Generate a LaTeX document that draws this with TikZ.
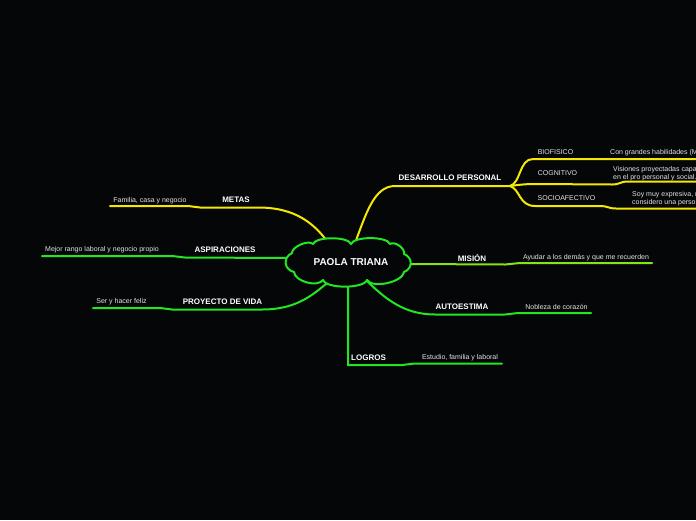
\documentclass[tikz,border=0pt]{standalone}
\usepackage{fontspec}
\setmainfont{Liberation Sans}
\definecolor{bg}{RGB}{5,6,8}
\definecolor{grn}{RGB}{34,230,34}
\definecolor{lime}{RGB}{135,228,20}
\definecolor{yel}{RGB}{245,232,0}
\definecolor{txt}{RGB}{228,228,228}
\begin{document}
\begin{tikzpicture}[x=1pt,y=-1pt,
  mainlabel/.style={font=\bfseries\fontsize{8}{9}\selectfont, text=white, inner sep=0pt},
  sublabel/.style={font=\fontsize{7}{8.6}\selectfont, text=txt, inner sep=0pt},
  centerlabel/.style={font=\bfseries\fontsize{10}{12}\selectfont, text=white, inner sep=0pt},
  gline/.style={draw=grn, line width=2pt, line cap=round},
  lline/.style={draw=lime, line width=2pt, line cap=round},
  yline/.style={draw=yel, line width=2pt, line cap=round},
  bump/.style={bend left=70, looseness=#1}]
\fill[bg] (0,0) rectangle (696,520);
\useasboundingbox (0,0) rectangle (696,520);
\clip (0,0) rectangle (696,520);

% cloud attachment coordinates
\coordinate (cDes) at (355,243);
\coordinate (cMet) at (327,241);
\coordinate (cAsp) at (287,258);
\coordinate (cPro) at (333,278);
\coordinate (cLog) at (348,281);
\coordinate (cAut) at (365,279);
\coordinate (cMis) at (410,264);

% branch coordinates
\coordinate (desA) at (395,186);
\coordinate (desJ) at (510,186);
\coordinate (bioA) at (533,159);
\coordinate (bioE) at (696,159);
\coordinate (cogA) at (535,184);
\coordinate (cogB) at (612,184.5);
\coordinate (cogC) at (628,181.5);
\coordinate (cogE) at (696,181.5);
\coordinate (socA) at (535,206);
\coordinate (socB) at (600,206);
\coordinate (socC) at (616,208.5);
\coordinate (socE) at (696,208.5);

\coordinate (misA) at (505,264.5);
\coordinate (misB) at (520,263);
\coordinate (misE) at (652,263);

\coordinate (autA) at (435,314.5);
\coordinate (autB) at (505,314.5);
\coordinate (autC) at (518,313);
\coordinate (autE) at (591,313);

\coordinate (logA) at (348,365);
\coordinate (logB) at (402,365);
\coordinate (logC) at (415,363.5);
\coordinate (logE) at (502,363.5);

\coordinate (proA) at (262,309.5);
\coordinate (proB) at (172,309.5);
\coordinate (proC) at (160,308);
\coordinate (proE) at (93,308);

\coordinate (aspB) at (185,257.5);
\coordinate (aspC) at (172,256);
\coordinate (aspE) at (42,256);

\coordinate (metA) at (258,207.5);
\coordinate (metB) at (200,207.5);
\coordinate (metC) at (188,206);
\coordinate (metE) at (110,206);

% connectors
\draw[yline] (cDes) .. controls (366,214) and (374,186) .. (desA) -- (desJ);
\draw[yline] (desJ) .. controls (521,183) and (519,159) .. (bioA) -- (bioE);
\draw[yline] (desJ) .. controls (518,185) and (524,184) .. (cogA) -- (cogB) .. controls (620,184.5) and (620,181.5) .. (cogC) -- (cogE);
\draw[yline] (desJ) .. controls (520,189) and (519,206) .. (socA) -- (socB) .. controls (608,206) and (608,208.5) .. (socC) -- (socE);

\draw[lline] (cMis) -- (misA) .. controls (512,264.5) and (512,263) .. (misB) -- (misE);
\draw[gline] (cAut) .. controls (386,300) and (405,314.5) .. (autA) -- (autB) .. controls (511,314.5) and (511,313) .. (autC) -- (autE);
\draw[gline] (cLog) -- (logA) -- (logB) .. controls (408,365) and (408,363.5) .. (logC) -- (logE);
\draw[gline] (cPro) .. controls (314,294) and (298,309.5) .. (proA) -- (proB) .. controls (166,309.5) and (166,308) .. (proC) -- (proE);
\draw[gline] (cAsp) -- (aspB) .. controls (178,257.5) and (178,256) .. (aspC) -- (aspE);
\draw[yline] (cMet) .. controls (314,224) and (296,207.5) .. (metA) -- (metB) .. controls (194,207.5) and (194,206) .. (metC) -- (metE);

% cloud
\filldraw[draw=grn, fill=bg, line width=2pt, line join=round]
  (292,253) to[bump=0.7] (313,244)
  to[bump=0.55] (351,244)
  to[bump=0.55] (390,244)
  to[bump=0.85] (404,254)
  to[bump=1.35] (404,272)
  to[bump=0.7] (367,280)
  to[bump=0.55] (323,280)
  to[bump=0.8] (294,272)
  to[bump=1.4] cycle;
\node[centerlabel] (center) at (351,262) {PAOLA TRIANA};

% labels
\node[mainlabel] (des) at (450,177.5) {DESARROLLO PERSONAL};
\node[sublabel] (bio) at (555.5,152.5) {BIOFISICO};
\node[sublabel] (cog) at (557.5,173.5) {COGNITIVO};
\node[sublabel] (soc) at (566.5,198.5) {SOCIOAFECTIVO};
\node[sublabel, anchor=west] (bioT) at (610,152.5) {Con grandes habilidades (M};
\node[sublabel, anchor=west, align=left] (cogT) at (613,173.5) {Visiones proyectadas capa\\en el pro personal y social.};
\node[sublabel, anchor=west, align=left] (socT) at (632,198.5) {Soy muy expresiva, r\\considero una perso};

\node[mainlabel] (mis) at (472,257.5) {MISIÓN};
\node[sublabel] (misT) at (586,257.5) {Ayudar a los demás y que me recuerden};
\node[mainlabel] (aut) at (462,306.5) {AUTOESTIMA};
\node[sublabel] (autT) at (556.5,306.5) {Nobleza de corazón};
\node[mainlabel] (log) at (368.5,357.5) {LOGROS};
\node[sublabel] (logT) at (460,357.5) {Estudio, familia y laboral};
\node[mainlabel] (pro) at (222.5,301.5) {PROYECTO DE VIDA};
\node[sublabel] (proT) at (121.5,302) {Ser y hacer feliz};
\node[mainlabel] (asp) at (225,249.5) {ASPIRACIONES};
\node[sublabel] (aspT) at (102,250) {Mejor rango laboral y negocio propio};
\node[mainlabel] (met) at (236,199.5) {METAS};
\node[sublabel] (metT) at (150,200.5) {Familia, casa y negocio};
\end{tikzpicture}
\end{document}
